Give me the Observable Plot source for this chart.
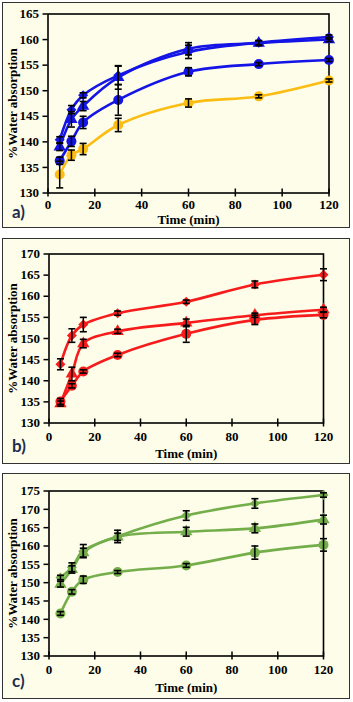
<!DOCTYPE html>
<html><head><meta charset="utf-8">
<script src="https://cdn.jsdelivr.net/npm/d3@7"></script>
<script src="https://cdn.jsdelivr.net/npm/@observablehq/plot@0.6"></script>
<style>
body{margin:0;background:#fff;width:353px;height:702px;position:relative;overflow:hidden}
.panel{position:absolute;left:2px;width:346px;height:224px;border:1.5px solid #333;background:#fdfde9;}
.panel svg{position:absolute;left:0;top:0;background:transparent;overflow:visible}
.lab{position:absolute;left:12px;font-family:Lato,"Open Sans",sans-serif;font-weight:bold;font-size:17px;line-height:17px;color:#1f2d4d}
</style></head><body>
<div class="panel" id="pa" style="top:2px"></div>
<div class="panel" id="pb" style="top:238px"></div>
<div class="panel" id="pc" style="top:473px"></div>
<div class="lab" style="top:203px">a)</div>
<div class="lab" style="top:437px">b)</div>
<div class="lab" style="top:672px">c)</div>
<script>
const times = [5, 10, 15, 30, 60, 90, 120];
const xTicks = [0, 20, 40, 60, 80, 100, 120];
const xTitle = "Time (min)";
const yTitle = "%Water absorption";

// Panel a (blue + orange)
const aYTicks = [130, 135, 140, 145, 150, 155, 160, 165];
const aDiamond = [140.4, 146.3, 149.1, 153.0, 157.6, 159.4, 160.5];
const aDiamondErr = [0.6, 0.8, 0.5, 1.8, 1.3, 0.4, 0.4];
const aTriangle = [139.0, 144.4, 147.0, 152.6, 158.2, 159.3, 160.0];
const aTriangleErr = [0.7, 1.5, 0.9, 2.3, 1.2, 0.5, 0.4];
const aCircle = [136.3, 140.1, 143.8, 148.2, 153.7, 155.2, 156.0];
const aCircleErr = [0.7, 1.0, 1.2, 3.0, 0.8, 0.3, 0.3];
const aOrange = [133.6, 137.4, 138.6, 143.3, 147.6, 148.9, 152.0];
const aOrangeErr = [2.6, 1.0, 1.1, 1.3, 0.8, 0.3, 0.3];

// Panel b (red)
const bYTicks = [130, 135, 140, 145, 150, 155, 160, 165, 170];
const bDiamond = [143.9, 150.7, 153.3, 156.0, 158.7, 162.8, 165.1];
const bDiamondErr = [1.3, 1.6, 1.7, 0.5, 0.4, 0.8, 1.4];
const bTriangle = [134.6, 141.6, 148.8, 151.7, 153.7, 155.5, 156.8];
const bTriangleErr = [0.6, 1.6, 1.0, 0.5, 0.9, 0.5, 0.6];
const bCircle = [135.1, 138.8, 142.2, 146.1, 151.1, 154.4, 155.6];
const bCircleErr = [0.7, 0.5, 0.4, 0.4, 2.0, 1.1, 0.7];

// Panel c (green)
const cYTicks = [130, 135, 140, 145, 150, 155, 160, 165, 170, 175];
const cDiamond = [151.4, 154.2, 158.6, 162.6, 168.3, 171.6, 173.9];
const cDiamondErr = [0.6, 1.2, 1.8, 1.7, 1.3, 1.3, 0.6];
const cTriangle = [149.6, 153.6, 158.2, 162.5, 163.9, 164.8, 167.2];
const cTriangleErr = [0.8, 1.0, 1.2, 1.0, 1.2, 1.2, 1.2];
const cCircle = [141.6, 147.5, 150.8, 152.9, 154.7, 158.2, 160.3];
const cCircleErr = [0.5, 0.6, 1.0, 0.4, 0.5, 1.8, 1.7];

const BLUE = "#1414e6", ORANGE = "#fbbd12", RED = "#f61c1c", GREEN = "#74ae4a";

const cap = {draw(ctx) { ctx.moveTo(-3.5, 0); ctx.lineTo(3.5, 0); }};

function makePanel(el, {series, yDomain, yTicks, m, ylabDx, xlabDy, xPad}) {
  const W = 346, H = 224;
  const pxPerUnit = (H - m.top - m.bottom) / (yDomain[1] - yDomain[0]);
  const k = 4 / pxPerUnit;
  const rows = series.flatMap(s => times.map((t, i) => ({t, v: s.values[i], e: s.err[i]})));
  const marks = [
    Plot.ruleX(xTicks, {x: d => d, y1: yDomain[0], y2: yDomain[0] + k, stroke: "#000", strokeWidth: 1.5}),
    Plot.axisY({ticks: yTicks, tickSize: 5, tickPadding: 4, label: null, strokeWidth: 1.5, fill: "#000", stroke: "#000", fontSize: 13, fontWeight: "bold"}),
    Plot.axisX({ticks: xTicks, tickSize: 4, tickPadding: xPad, label: null, strokeWidth: 1.5, fill: "#000", stroke: "#000", fontSize: 13, fontWeight: "bold"}),
    Plot.frame({stroke: "#000", strokeWidth: 1.6}),
    ...series.map(s => Plot.line(times.map((t, i) => ({t, v: s.values[i]})),
      {x: "t", y: "v", stroke: s.color, strokeWidth: 2.6, curve: "catmull-rom"})),
    ...series.map(s => Plot.dot(times.map((t, i) => ({t, v: s.values[i]})),
      {x: "t", y: "v", fill: s.color, stroke: "none", symbol: s.symbol, r: s.r})),
    Plot.ruleX(rows, {x: "t", y1: d => d.v - d.e, y2: d => d.v + d.e, stroke: "#000", strokeWidth: 1.5}),
    Plot.dot(rows, {x: "t", y: d => d.v - d.e, symbol: cap, stroke: "#000", strokeWidth: 1.6, r: 3}),
    Plot.dot(rows, {x: "t", y: d => d.v + d.e, symbol: cap, stroke: "#000", strokeWidth: 1.6, r: 3}),
    Plot.text([xTitle], {frameAnchor: "bottom", dy: xlabDy, lineAnchor: "middle", textAnchor: "middle", text: d => d, fill: "#000", fontSize: 13, fontWeight: "bold"}),
    Plot.text([yTitle], {frameAnchor: "left", dx: ylabDx, rotate: -90, lineAnchor: "middle", textAnchor: "middle", text: d => d, fill: "#000", fontSize: 13, fontWeight: "bold"})
  ];
  const p = Plot.plot({
    width: W, height: H,
    marginTop: m.top, marginBottom: m.bottom, marginLeft: m.left, marginRight: m.right,
    x: {domain: [0, 120]},
    y: {domain: yDomain},
    style: {background: "transparent", fontFamily: "'Liberation Serif', 'Times New Roman', serif", fontSize: "13px", fontWeight: "bold", color: "#000", overflow: "visible"},
    marks
  });
  el.appendChild(p);
}

makePanel(document.getElementById("pa"), {
  series: [
    {values: aOrange, err: aOrangeErr, color: ORANGE, symbol: "circle", r: 5},
    {values: aCircle, err: aCircleErr, color: BLUE, symbol: "circle", r: 5},
    {values: aTriangle, err: aTriangleErr, color: BLUE, symbol: "triangle", r: 4.6},
    {values: aDiamond, err: aDiamondErr, color: BLUE, symbol: "diamond2", r: 4.5}
  ],
  yDomain: [130, 165], yTicks: aYTicks,
  m: {top: 10.5, bottom: 34.5, left: 44.5, right: 20.5}, ylabDx: -35, xlabDy: 27, xPad: 3
});
makePanel(document.getElementById("pb"), {
  series: [
    {values: bCircle, err: bCircleErr, color: RED, symbol: "circle", r: 5},
    {values: bTriangle, err: bTriangleErr, color: RED, symbol: "triangle", r: 4.6},
    {values: bDiamond, err: bDiamondErr, color: RED, symbol: "diamond2", r: 4.5}
  ],
  yDomain: [130, 170], yTicks: bYTicks,
  m: {top: 14.5, bottom: 40.5, left: 45.5, right: 26}, ylabDx: -36, xlabDy: 31, xPad: 5
});
makePanel(document.getElementById("pc"), {
  series: [
    {values: cCircle, err: cCircleErr, color: GREEN, symbol: "circle", r: 5},
    {values: cTriangle, err: cTriangleErr, color: GREEN, symbol: "triangle", r: 4.6},
    {values: cDiamond, err: cDiamondErr, color: GREEN, symbol: "diamond2", r: 4.5}
  ],
  yDomain: [130, 175], yTicks: cYTicks,
  m: {top: 16.5, bottom: 42.5, left: 45.5, right: 26}, ylabDx: -36, xlabDy: 32, xPad: 5
});
</script>
</body></html>
